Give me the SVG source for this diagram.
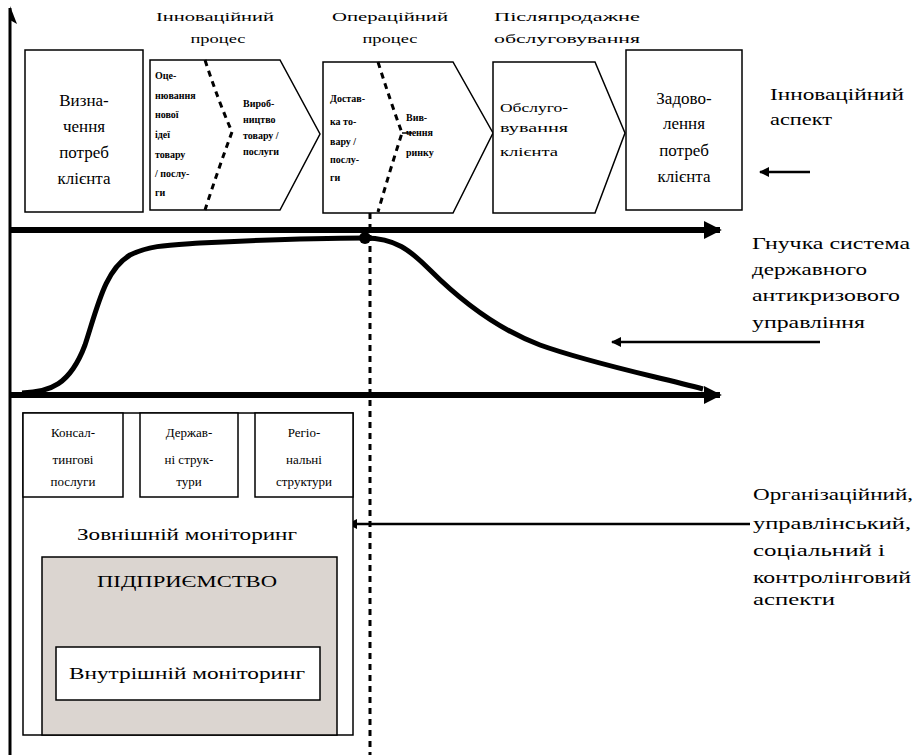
<svg xmlns="http://www.w3.org/2000/svg" width="919" height="755" viewBox="0 0 919 755" font-family="'Liberation Serif','DejaVu Serif','Noto Serif',serif">
<style>
text{font-family:"Liberation Serif","DejaVu Serif","Noto Serif",serif;fill:#000}
.h{font-size:13px;text-anchor:middle}
.b{font-size:17px;text-anchor:middle}
.s{font-size:10px;font-weight:bold}
.m{font-size:12px}
.r{font-size:16px}
.l{font-size:13px;text-anchor:middle}
.box{fill:#fff;stroke:#000;stroke-width:1.5}
.dash{fill:none;stroke:#000;stroke-width:3;stroke-dasharray:6,5}
.ax{stroke:#000;stroke-width:6;fill:none}
.ln{stroke:#000;stroke-width:2.5;fill:none}
</style>
<defs>
<marker id="ah" viewBox="0 0 10 10" refX="9" refY="5" markerWidth="4" markerHeight="4" orient="auto" markerUnits="strokeWidth"><path d="M0,0 L10,5 L0,10 z" fill="#000"/></marker>
<marker id="ah2" viewBox="0 0 10 10" refX="9" refY="5" markerWidth="3" markerHeight="3" orient="auto" markerUnits="strokeWidth"><path d="M0,0 L10,5 L0,10 z" fill="#000"/></marker>
</defs>

<g id="connectors">
<line x1="10" y1="755" x2="10" y2="8" stroke="#000" stroke-width="3"/>
<path d="M10,6 L17,24 L10,20 z" fill="#000"/>
<line class="ax" x1="10" y1="230" x2="720" y2="230" marker-end="url(#ah2)"/>
<line class="ax" x1="10" y1="395" x2="720" y2="395" marker-end="url(#ah2)"/>
<path d="M22,393 C50,392 70,385 85,345 C98,305 105,270 130,255 C150,245 170,245 200,243 C260,240 320,238 365,238 C395,238 410,250 430,270 C465,305 500,330 540,345 C590,363 650,375 703,389" fill="none" stroke="#000" stroke-width="5"/>
<circle cx="365" cy="238" r="6" fill="#000"/>
<line class="dash" x1="370" y1="213" x2="370" y2="755" stroke-width="2"/>
<line class="ln" x1="820" y1="342" x2="612" y2="342" marker-end="url(#ah)"/>
<line class="ln" x1="810" y1="172" x2="760" y2="172" stroke-width="3" marker-end="url(#ah)"/>
<line class="ln" x1="750" y1="524" x2="348" y2="524" marker-end="url(#ah)"/>
<line class="ln" x1="73" y1="480" x2="123" y2="518" marker-end="url(#ah)" stroke-width="3"/>
<line class="ln" x1="188" y1="480" x2="188" y2="520" marker-end="url(#ah)" stroke-width="3"/>
<line class="ln" x1="287" y1="480" x2="238" y2="518" marker-end="url(#ah)" stroke-width="3"/>
</g>

<g id="headers">
<text class="h" x="215" y="21" textLength="118" lengthAdjust="spacingAndGlyphs">Інноваційний</text>
<text class="h" x="218" y="43" textLength="55" lengthAdjust="spacingAndGlyphs">процес</text>
<text class="h" x="390" y="21" textLength="116" lengthAdjust="spacingAndGlyphs">Операційний</text>
<text class="h" x="390" y="43" textLength="55" lengthAdjust="spacingAndGlyphs">процес</text>
<text class="h" x="567" y="21" textLength="146" lengthAdjust="spacingAndGlyphs">Післяпродажне</text>
<text class="h" x="567" y="43" textLength="146" lengthAdjust="spacingAndGlyphs">обслуговування</text>
</g>

<g id="node-vyznachennia">
<rect class="box" x="25" y="50" width="118" height="162"/>
<text class="b" x="84" y="106">Визна-</text>
<text class="b" x="84" y="132">чення</text>
<text class="b" x="84" y="158">потреб</text>
<text class="b" x="84" y="184">клієнта</text>
</g>

<g id="node-innov">
<polygon class="box" points="150,60 280,60 320,134 280,210 150,210"/>
<path class="dash" d="M205,60 Q218,100 232,132 Q218,170 205,210"/>
<text class="s" x="155" y="79">Оце-</text>
<text class="s" x="155" y="99">нювання</text>
<text class="s" x="155" y="118">нової</text>
<text class="s" x="155" y="138">ідеї</text>
<text class="s" x="155" y="158">товару</text>
<text class="s" x="155" y="177">/ послу-</text>
<text class="s" x="155" y="196">ги</text>
<text class="s" x="243" y="107">Вироб-</text>
<text class="s" x="243" y="123">ництво</text>
<text class="s" x="243" y="139">товару /</text>
<text class="s" x="243" y="155">послуги</text>
</g>

<g id="node-oper">
<polygon class="box" points="323,62 453,62 493,133 453,213 323,213"/>
<path class="dash" d="M378,62 Q390,100 402,133 Q390,170 378,212"/>
<line x1="402" y1="133" x2="412" y2="133" stroke="#000" stroke-width="1.5"/>
<text class="s" x="330" y="102">Достав-</text>
<text class="s" x="330" y="125">ка то-</text>
<text class="s" x="330" y="145">вару /</text>
<text class="s" x="330" y="163">послу-</text>
<text class="s" x="330" y="181">ги</text>
<text class="s" x="406" y="121">Вив-</text>
<text class="s" x="406" y="136">чення</text>
<text class="s" x="406" y="156">ринку</text>
</g>

<g id="node-obsl">
<polygon class="box" points="493,62 595,62 625,133 595,213 493,213"/>
<text class="m" x="500" y="112" textLength="68" lengthAdjust="spacingAndGlyphs">Обслуго-</text>
<text class="m" x="500" y="132" textLength="68" lengthAdjust="spacingAndGlyphs">вування</text>
<text class="m" x="500" y="156" textLength="58" lengthAdjust="spacingAndGlyphs">клієнта</text>
</g>

<g id="node-zadovolennia">
<rect class="box" x="626" y="50" width="116" height="160"/>
<text class="b" x="684" y="104">Задово-</text>
<text class="b" x="684" y="129">лення</text>
<text class="b" x="684" y="156">потреб</text>
<text class="b" x="684" y="182">клієнта</text>
</g>

<g id="label-innov-aspect">
<text class="r" x="770" y="100" textLength="134" lengthAdjust="spacingAndGlyphs">Інноваційний</text>
<text class="r" x="770" y="125" textLength="62" lengthAdjust="spacingAndGlyphs">аспект</text>
</g>

<g id="label-system">
<text class="r" x="752" y="249" textLength="158" lengthAdjust="spacingAndGlyphs">Гнучка система</text>
<text class="r" x="752" y="275" textLength="115" lengthAdjust="spacingAndGlyphs">державного</text>
<text class="r" x="752" y="301" textLength="148" lengthAdjust="spacingAndGlyphs">антикризового</text>
<text class="r" x="752" y="328" textLength="113" lengthAdjust="spacingAndGlyphs">управління</text>
</g>

<g id="label-aspects">
<text class="r" x="753" y="500" textLength="160" lengthAdjust="spacingAndGlyphs">Організаційний,</text>
<text class="r" x="753" y="529" textLength="158" lengthAdjust="spacingAndGlyphs">управлінський,</text>
<text class="r" x="753" y="556" textLength="132" lengthAdjust="spacingAndGlyphs">соціальний  і</text>
<text class="r" x="753" y="583" textLength="158" lengthAdjust="spacingAndGlyphs">контролінговий</text>
<text class="r" x="753" y="605" textLength="82" lengthAdjust="spacingAndGlyphs">аспекти</text>
</g>

<g id="node-zovnishnii">
<rect class="box" x="23" y="413" width="330" height="322"/>
<text class="b" x="187" y="540" textLength="220" lengthAdjust="spacingAndGlyphs">Зовнішній  моніторинг</text>
</g>

<g id="node-konsalt">
<rect class="box" x="23" y="413" width="100" height="84"/>
<text class="l" x="73" y="437">Консал-</text>
<text class="l" x="73" y="464">тингові</text>
<text class="l" x="73" y="486">послуги</text>
</g>

<g id="node-derzh">
<rect class="box" x="140" y="413" width="98" height="84"/>
<text class="l" x="189" y="437">Держав-</text>
<text class="l" x="189" y="464">ні струк-</text>
<text class="l" x="189" y="486">тури</text>
</g>

<g id="node-region">
<rect class="box" x="255" y="413" width="98" height="84"/>
<text class="l" x="304" y="437">Регіо-</text>
<text class="l" x="304" y="464">нальні</text>
<text class="l" x="304" y="486">структури</text>
</g>

<g id="node-pidpryiemstvo">
<rect x="42" y="557" width="295" height="178" fill="#dbd5d0" stroke="#000" stroke-width="1.5"/>
<text class="b" x="187" y="587" textLength="180" lengthAdjust="spacingAndGlyphs">ПІДПРИЄМСТВО</text>
</g>

<g id="node-vnutrishnii">
<rect class="box" x="56" y="647" width="264" height="53"/>
<text class="b" x="187" y="679" textLength="236" lengthAdjust="spacingAndGlyphs">Внутрішній  моніторинг</text>
</g>
</svg>
